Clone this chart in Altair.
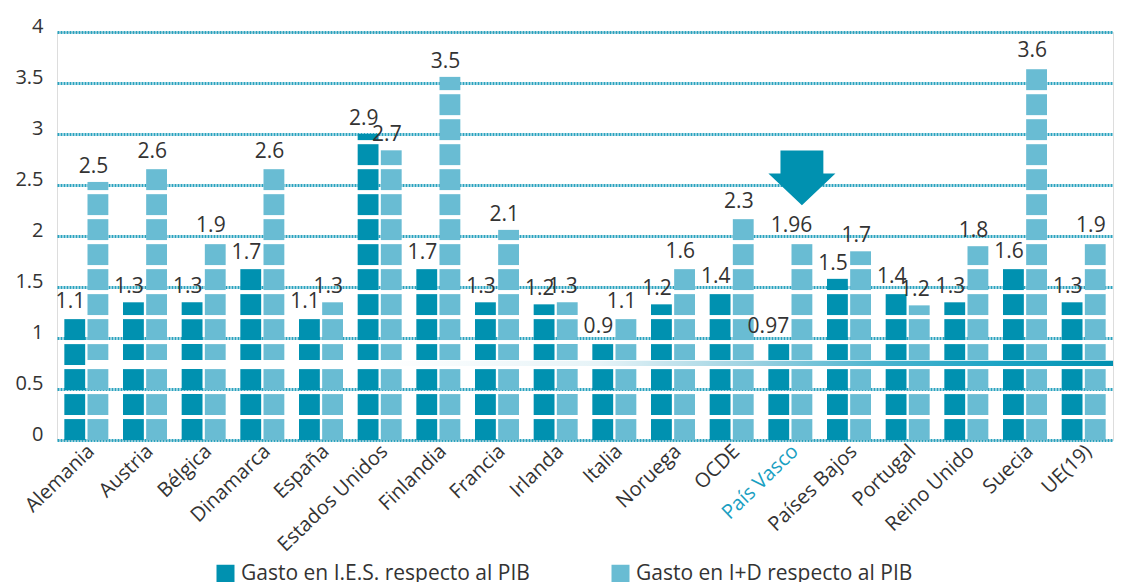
import altair as alt
import pandas as pd
import math

# ---------------- data ----------------
CATEGORIES = ["Alemania", "Austria", "Bélgica", "Dinamarca", "España", "Estados Unidos",
              "Finlandia", "Francia", "Irlanda", "Italia", "Noruega", "OCDE", "País Vasco",
              "Países Bajos", "Portugal", "Reino Unido", "Suecia", "UE(19)"]
SERIES = ["Gasto en I.E.S. respecto al PIB", "Gasto en I+D respecto al PIB"]

# bar heights
IES_VALUES = [1.21, 1.35, 1.35, 1.69, 1.21, 3.00, 1.69, 1.35, 1.33, 0.96, 1.33, 1.45,
              0.96, 1.58, 1.45, 1.35, 1.70, 1.35]
IED_VALUES = [2.53, 2.68, 1.95, 2.68, 1.35, 2.84, 3.56, 2.06, 1.35, 1.21, 1.70, 2.19,
              1.95, 1.85, 1.32, 1.90, 3.67, 1.95]
# printed labels
IES_LABELS = ["1.1", "1.3", "1.3", "1.7", "1.1", "2.9", "1.7", "1.3", "1.2", "0.9", "1.2",
              "1.4", "0.97", "1.5", "1.4", "1.3", "1.6", "1.3"]
IED_LABELS = ["2.5", "2.6", "1.9", "2.6", "1.3", "2.7", "3.5", "2.1", "1.3", "1.1", "1.6",
              "2.3", "1.96", "1.7", "1.2", "1.8", "3.6", "1.9"]
Y_TICKS = [0, 0.5, 1, 1.5, 2, 2.5, 3, 3.5, 4]

HIGHLIGHT = "País Vasco"
ARROW_LEVEL = 2.57
LINE_FROM = "Estados Unidos"
LINE_LEVEL = (0.725, 0.778)
BAND_LEVEL = (0.705, 0.784)

DARK = "#0091b0"
LIGHT = "#69bcd3"
TEXT = "#333333"
FONT = "Open Sans"

BLOCK_STEP = 0.245
BLOCK_H = 0.205

# ---------------- tables ----------------
rows = []
for c, a, b, la, lb in zip(CATEGORIES, IES_VALUES, IED_VALUES, IES_LABELS, IED_LABELS):
    rows.append({"cat": c, "serie": SERIES[0], "valor": a, "etiqueta": la})
    rows.append({"cat": c, "serie": SERIES[1], "valor": b, "etiqueta": lb})
df = pd.DataFrame(rows)

blocks = []
for r in rows:
    n = int(math.ceil(r["valor"] / BLOCK_STEP))
    for k in range(n):
        lo = k * BLOCK_STEP
        hi = min(lo + BLOCK_H, r["valor"])
        if hi > lo:
            blocks.append({"cat": r["cat"], "serie": r["serie"], "y0": lo, "y1": hi})
dfb = pd.DataFrame(blocks)

band = pd.DataFrame([{"cat": CATEGORIES[0], "y0": BAND_LEVEL[0], "y1": BAND_LEVEL[1]}])
line = pd.DataFrame([{"cat": LINE_FROM, "y0": LINE_LEVEL[0], "y1": LINE_LEVEL[1]}])
arrow = pd.DataFrame([{"cat": HIGHLIGHT, "serie": SERIES[1], "valor": ARROW_LEVEL}])

W, H = 1056, 408

xscale = alt.Scale(domain=CATEGORIES, paddingInner=0.25, paddingOuter=0.125)
yscale = alt.Scale(domain=[0, 4], nice=False, zero=True)
xoff = alt.XOffset("serie:N", sort=SERIES, scale=alt.Scale(domain=SERIES, paddingInner=0.1, paddingOuter=0))

x_axis = alt.Axis(
    title=None, domain=False, ticks=False, grid=False,
    labelAngle=-44, labelAlign="right", labelBaseline="middle",
    labelFontSize=20, labelFont=FONT, labelPadding=8, labelOffset=5,
    labelColor={"condition": {"test": f"datum.value === '{HIGHLIGHT}'", "value": "#1a9fc2"}, "value": TEXT},
)
y_axis = alt.Axis(
    title=None, domain=False, ticks=False, values=Y_TICKS, format=".1~f",
    labelFontSize=20, labelFont=FONT, labelColor=TEXT, labelPadding=14,
    labelBaseline="alphabetic",
    grid=True, gridColor="#2aa3bf", gridWidth=3, gridDash=[2, 1],
)

X = alt.X("cat:N", sort=CATEGORIES, scale=xscale, axis=x_axis)

bars = alt.Chart(dfb).mark_bar(strokeWidth=0).encode(
    x=X,
    xOffset=xoff,
    y=alt.Y("y0:Q", scale=yscale, axis=y_axis),
    y2="y1:Q",
    color=alt.Color("serie:N", sort=SERIES,
                    scale=alt.Scale(domain=SERIES, range=[DARK, LIGHT]),
                    legend=alt.Legend(title=None, orient="none", legendX=158, legendY=531,
                                      direction="horizontal", symbolType="square",
                                      symbolSize=324, symbolStrokeWidth=0,
                                      labelFontSize=21, labelFont=FONT, labelColor=TEXT,
                                      labelOffset=5, columnPadding=80, labelLimit=400)),
)

band_layer = alt.Chart(band).mark_rect(color="white").encode(
    x=X, x2=alt.value(W),
    y=alt.Y("y0:Q", scale=yscale, axis=y_axis), y2="y1:Q",
)

grad = alt.Gradient(
    gradient="linear", x1=0, x2=1, y1=0, y2=0,
    stops=[alt.GradientStop(color="#ffffff", offset=0),
           alt.GradientStop(color="#e6f3f7", offset=0.3),
           alt.GradientStop(color="#9fd3e2", offset=0.5),
           alt.GradientStop(color="#4cb4cf", offset=0.68),
           alt.GradientStop(color="#1aa3c4", offset=0.85),
           alt.GradientStop(color="#0090b0", offset=1)],
)
line_layer = alt.Chart(line).mark_rect(color=grad).encode(
    x=X, x2=alt.value(W),
    y=alt.Y("y0:Q", scale=yscale, axis=y_axis), y2="y1:Q",
)

labels = alt.Chart(df).mark_text(
    align="right", baseline="alphabetic", dx=10.4, dy=-9,
    fontSize=21, font=FONT, color=TEXT,
).encode(
    x=X,
    xOffset=xoff,
    y=alt.Y("valor:Q", scale=yscale, axis=y_axis),
    text="etiqueta:N",
)

arrow_layer = alt.Chart(arrow).mark_point(
    shape="M -0.64 -0.82 L 0.64 -0.82 L 0.64 -0.13 L 1 -0.13 L 0 0.82 L -1 -0.13 L -0.64 -0.13 Z",
    size=4489, filled=True, opacity=1, color=DARK, strokeWidth=0,
).encode(
    x=X,
    xOffset=xoff,
    y=alt.Y("valor:Q", scale=yscale, axis=y_axis),
)

chart = alt.layer(bars, band_layer, line_layer, labels, arrow_layer).properties(
    width=W, height=H,
    autosize=alt.AutoSizeParams(type="none"),
    padding={"left": 49, "top": 24, "right": 3, "bottom": 142},
).configure_view(stroke=None).configure(font=FONT)

chart.save("out.html", embed_options={"renderer": "svg", "actions": False})
